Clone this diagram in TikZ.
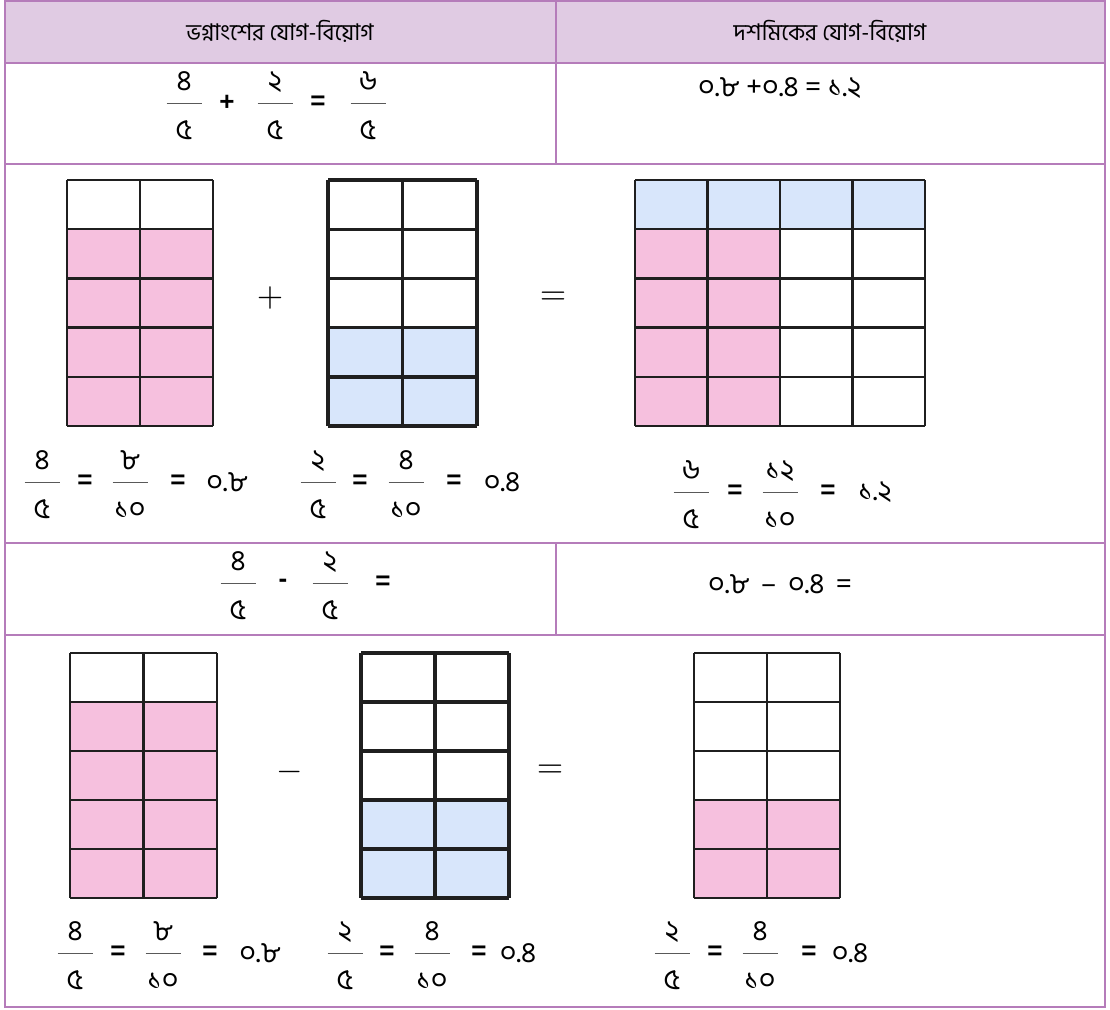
\documentclass[tikz,border=0pt]{standalone}
\usepackage{graphicx}
\usepackage{fontspec}
\setmainfont{Liberation Sans}
\newfontfamily\bnfont[Script=Bengali]{Hind Siliguri}
\usetikzlibrary{positioning}

\definecolor{headfill}{HTML}{E0CBE3}
\definecolor{rulecol}{HTML}{B57CBA}
\definecolor{pinkcell}{HTML}{F6C0DE}
\definecolor{bluecell}{HTML}{D8E6FB}

% fraction: name, x, y of bar, numerator, denominator
\newcommand{\bnfrac}[5]{%
  \node[digit] (#1-num) at (#2, #3-12.5) {#4};
  \node[digit] (#1-den) at (#2, #3+36) {#5};
  \draw[fracbar] (#2-17.5, #3) -- (#2+17.5, #3);
}
\newcommand{\bigsign}[1]{\scalebox{3.4}{$#1$}}

\begin{document}
\begin{tikzpicture}[
        x = 1pt, y = -1pt,
        tablerule/.style = {draw = rulecol, line width = 2pt},
        gridline/.style  = {draw = black!88, line width = 2.4pt},
        thickgrid/.style = {draw = black!88, line width = 3.4pt},
        fracbar/.style   = {draw = black!65, line width = 1pt},
        digit/.style     = {anchor = base, inner sep = 0pt,
                            font = \bnfont\fontsize{29}{29}\selectfont},
        opsign/.style    = {inner sep = 0pt, font = \bfseries\fontsize{26}{26}\selectfont},
        bigop/.style     = {inner sep = 0pt},
        headtext/.style  = {font = \bnfont\fontsize{23}{23}\selectfont},
        bntext/.style    = {inner sep = 0pt, font = \bnfont\fontsize{29}{29}\selectfont}
    ]
    \useasboundingbox (0,0) rectangle (1110,1009);

    % table
    \fill[headfill] (5,0) rectangle (1105,63);
    \draw[tablerule] (5,1) rectangle (1105,1007);
    \foreach \yy in {63, 164, 543, 635}
        \draw[tablerule] (5,\yy) -- (1105,\yy);
    \draw[tablerule] (556,0) -- (556,164);
    \draw[tablerule] (556,543) -- (556,635);

    \node[headtext] (headfrac) at (280,31) {ভগ্নাংশের যোগ-বিয়োগ};
    \node[headtext] (headdec)  at (830,31) {দশমিকের যোগ-বিয়োগ};

    % addition, fractions
    \bnfrac{addA}{184}{103}{৪}{৫}
    \node[opsign] (addplus) at (227,103) {+};
    \bnfrac{addB}{275}{103}{২}{৫}
    \node[opsign] (addeq) at (318,103) {=};
    \bnfrac{addC}{368}{103}{৬}{৫}
    \node[bntext, anchor = west] (adddec) at (698,88) {০.৮ +০.৪ = ১.২};

    % addition, grids
    \begin{scope}[shift = {(67,180)}, x = 73pt, y = -49.2pt]
        \fill[pinkcell] (0,1) rectangle (2,5);
        \foreach \i in {0,...,5} \draw[gridline] (0,\i) -- (2,\i);
        \foreach \j in {0,...,2} \draw[gridline] (\j,0) -- (\j,5);
    \end{scope}
    \node[bigop] (gridplus) at (270,298) {\bigsign{+}};
    \begin{scope}[shift = {(328,180)}, x = 74.5pt, y = -49.2pt]
        \fill[bluecell] (0,3) rectangle (2,5);
        \foreach \i in {0,...,5} \draw[thickgrid] (0,\i) -- (2,\i);
        \foreach \j in {0,...,2} \draw[thickgrid] (\j,0) -- (\j,5);
    \end{scope}
    \node[bigop] (grideq) at (553,298) {\bigsign{=}};
    \begin{scope}[shift = {(635,180)}, x = 72.5pt, y = -49.2pt]
        \fill[bluecell] (0,0) rectangle (4,1);
        \fill[pinkcell] (0,1) rectangle (2,5);
        \foreach \i in {0,...,5} \draw[gridline] (0,\i) -- (4,\i);
        \foreach \j in {0,...,4} \draw[gridline] (\j,0) -- (\j,5);
    \end{scope}

    % addition, labels
    \bnfrac{lA1}{42}{482}{৪}{৫}
    \node[opsign] (lAe1) at (85,482) {=};
    \bnfrac{lA2}{130}{482}{৮}{১০}
    \node[opsign] (lAe2) at (178,482) {=};
    \node[bntext] (lAv) at (227,482) {০.৮};
    \bnfrac{lB1}{318}{482}{২}{৫}
    \node[opsign] (lBe1) at (360,482) {=};
    \bnfrac{lB2}{406}{482}{৪}{১০}
    \node[opsign] (lBe2) at (454,482) {=};
    \node[bntext] (lBv) at (502,482) {০.৪};
    \bnfrac{lC1}{691}{492}{৬}{৫}
    \node[opsign] (lCe1) at (735,492) {=};
    \bnfrac{lC2}{780}{492}{১২}{১০}
    \node[opsign] (lCe2) at (828,492) {=};
    \node[bntext] (lCv) at (875,492) {১.২};

    % subtraction, fractions
    \bnfrac{subA}{238}{583}{৪}{৫}
    \node[opsign] (subminus) at (283,583) {-};
    \bnfrac{subB}{330}{583}{২}{৫}
    \node[opsign] (subeq) at (383,583) {=};
    \node[bntext, anchor = west] (subdec) at (708,584) {০.৮ \,–\, ০.৪ \,=};

    % subtraction, grids
    \begin{scope}[shift = {(70,653)}, x = 73.5pt, y = -49pt]
        \fill[pinkcell] (0,1) rectangle (2,5);
        \foreach \i in {0,...,5} \draw[gridline] (0,\i) -- (2,\i);
        \foreach \j in {0,...,2} \draw[gridline] (\j,0) -- (\j,5);
    \end{scope}
    \node[bigop] (gridminus) at (290,772) {\bigsign{-}};
    \begin{scope}[shift = {(361,653)}, x = 74pt, y = -49pt]
        \fill[bluecell] (0,3) rectangle (2,5);
        \foreach \i in {0,...,5} \draw[thickgrid] (0,\i) -- (2,\i);
        \foreach \j in {0,...,2} \draw[thickgrid] (\j,0) -- (\j,5);
    \end{scope}
    \node[bigop] (grideq2) at (550,771) {\bigsign{=}};
    \begin{scope}[shift = {(694,653)}, x = 73pt, y = -49pt]
        \fill[pinkcell] (0,3) rectangle (2,5);
        \foreach \i in {0,...,5} \draw[gridline] (0,\i) -- (2,\i);
        \foreach \j in {0,...,2} \draw[gridline] (\j,0) -- (\j,5);
    \end{scope}

    % subtraction, labels
    \bnfrac{mA1}{75}{953}{৪}{৫}
    \node[opsign] (mAe1) at (118,953) {=};
    \bnfrac{mA2}{163}{953}{৮}{১০}
    \node[opsign] (mAe2) at (210,953) {=};
    \node[bntext] (mAv) at (260,953) {০.৮};
    \bnfrac{mB1}{345}{953}{২}{৫}
    \node[opsign] (mBe1) at (387,953) {=};
    \bnfrac{mB2}{432}{953}{৪}{১০}
    \node[opsign] (mBe2) at (479,953) {=};
    \node[bntext] (mBv) at (518,953) {০.৪};
    \bnfrac{mC1}{672}{953}{২}{৫}
    \node[opsign] (mCe1) at (715,953) {=};
    \bnfrac{mC2}{760}{953}{৪}{১০}
    \node[opsign] (mCe2) at (809,953) {=};
    \node[bntext] (mCv) at (850,953) {০.৪};
\end{tikzpicture}
\end{document}
